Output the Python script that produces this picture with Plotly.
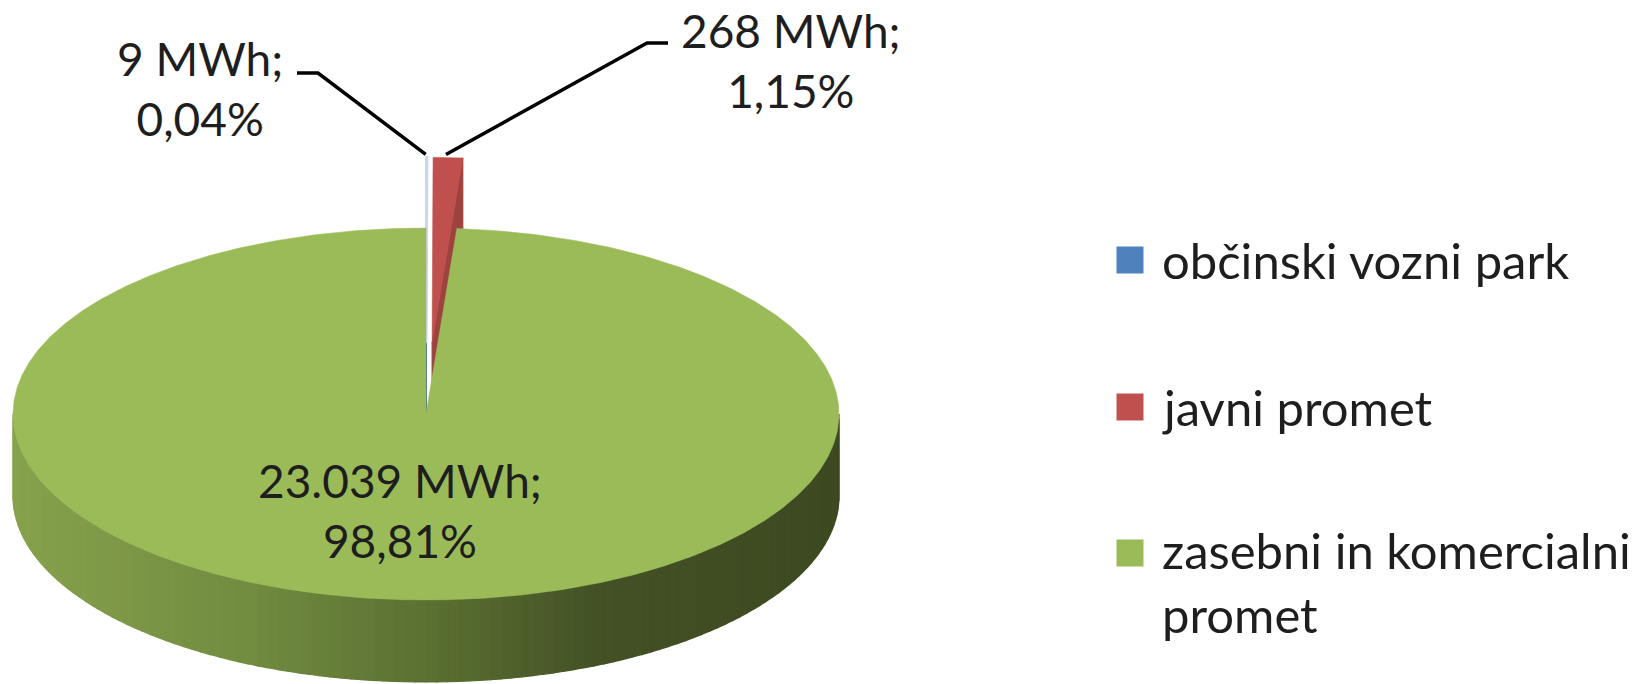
import numpy as np
import plotly.graph_objects as go

# ---- data -------------------------------------------------------------
categories = ["občinski vozni park", "javni promet", "zasebni in komercialni promet"]
energy_mwh = [9, 268, 23039]
slice_colors = ["#4F81BD", "#C0504D", "#9BBB59"]

# ---- drawing constants (pixel space of the page) ------------------------
W, H = 1645, 684
CX, CY = 426, 414          # centre of the top ellipse
RX, RY = 413, 186          # radii of the top ellipse
DEPTH = 82                 # thickness of the disc
EXPLODE = [0.38, 0.38, 0.0]
FONT = dict(family="Lato, 'Open Sans', sans-serif", size=46, color="#1e1e1e")
LEGEND_FONT = dict(FONT, size=49)

total = sum(energy_mwh)
shares = [v / total for v in energy_mwh]
bounds = np.concatenate([[0.0], np.cumsum(shares)]) * 360.0   # clockwise from 12 o'clock


def fmt_mwh(v):
    return f"{v:,}".replace(",", ".") + " MWh"


def fmt_pct(s):
    return f"{s * 100:.2f}".replace(".", ",") + "%"


def rim(theta, off=(0.0, 0.0), drop=0.0):
    t = np.radians(theta)
    return CX + off[0] + RX * np.sin(t), CY + off[1] - RY * np.cos(t) + drop


def hex_rgb(h):
    h = h.lstrip("#")
    return tuple(int(h[i:i + 2], 16) for i in (0, 2, 4))


def rgb(c):
    return "rgb(%d,%d,%d)" % tuple(int(round(v)) for v in c)


def darker(h, f):
    return rgb(tuple(v * f for v in hex_rgb(h)))


# lighting of the outer wall: bright on the left, dark on the right
WALL_STOPS = [(0.00, (135, 162, 76)), (0.29, (113, 139, 64)), (0.53, (88, 108, 48)),
              (0.71, (67, 81, 37)), (1.00, (61, 73, 33))]


def wall_color(x):
    f = (x - (CX - RX)) / (2 * RX)
    f = min(max(f, 0.0), 1.0)
    for (f0, c0), (f1, c1) in zip(WALL_STOPS[:-1], WALL_STOPS[1:]):
        if f <= f1:
            k = (f - f0) / (f1 - f0) if f1 > f0 else 0
            return rgb(tuple(a + (b - a) * k for a, b in zip(c0, c1)))
    return rgb(WALL_STOPS[-1][1])


fig = go.Figure()


def poly(xs, ys, color, line_color=None, lw=1.0):
    fig.add_trace(go.Scatter(
        x=list(xs) + [xs[0]], y=list(ys) + [ys[0]], mode="lines", fill="toself",
        fillcolor=color, line=dict(color=line_color or color, width=lw),
        hoverinfo="skip", showlegend=False))


# ---- slices: exploded (rear) slices first, the large slice last -----------
order = sorted(range(len(energy_mwh)), key=lambda i: -EXPLODE[i])
for i in order:
    a0, a1 = bounds[i], bounds[i + 1]
    mid = np.radians((a0 + a1) / 2)
    off = (EXPLODE[i] * RX * np.sin(mid), -EXPLODE[i] * RY * np.cos(mid))
    c = slice_colors[i]
    ctop = (CX + off[0], CY + off[1])

    # radial wall at the clockwise end (visible when it faces forward)
    if np.sin(np.radians(a1)) > 1e-6:
        rx_, ry_ = rim(a1, off)
        poly([ctop[0], rx_, rx_, ctop[0]], [ctop[1], ry_, ry_ + DEPTH, ctop[1] + DEPTH],
             darker(c, 0.82))
    # radial wall at the start
    if np.sin(np.radians(a0)) < -1e-6:
        rx_, ry_ = rim(a0, off)
        poly([ctop[0], rx_, rx_, ctop[0]], [ctop[1], ry_, ry_ + DEPTH, ctop[1] + DEPTH],
             darker(c, 0.82))

    # outer wall, front half only
    lo, hi = max(a0, 90.0), min(a1, 270.0)
    if hi > lo:
        n = max(2, int((hi - lo) / 1.5))
        th = np.linspace(lo, hi, n + 1)
        for ta, tb in zip(th[:-1], th[1:]):
            xa, ya = rim(ta, off)
            xb, yb = rim(tb, off)
            col = wall_color((xa + xb) / 2) if i == 2 else darker(c, 0.75)
            poly([xa, xb, xb, xa], [ya, yb, yb + DEPTH, ya + DEPTH], col, lw=1.2)

    # top face
    th = np.linspace(a0, a1, max(3, int((a1 - a0) * 2)))
    xs, ys = rim(th, off)
    if i == 0:
        poly([ctop[0]] + list(xs), [ctop[1]] + list(ys), "#c9d8ec", "#c9d8ec", lw=2.5)
    else:
        poly([ctop[0]] + list(xs), [ctop[1]] + list(ys), c, lw=0.5)

# ---- data labels ------------------------------------------------------------
label_pos = [(200, 88), (791, 60), (400, 510)]
leader_elbow = [((297, 73), (318, 73)), ((668, 43), (647, 43))]

for i, (v, s) in enumerate(zip(energy_mwh, shares)):
    fig.add_annotation(x=label_pos[i][0], y=label_pos[i][1], text=f"{fmt_mwh(v)};<br>{fmt_pct(s)}",
                       showarrow=False, font=FONT, align="center",
                       xanchor="center", yanchor="middle")

for i, (p0, p1) in enumerate(leader_elbow):
    mid = np.radians((bounds[i] + bounds[i + 1]) / 2)
    off = (EXPLODE[i] * RX * np.sin(mid), -EXPLODE[i] * RY * np.cos(mid))
    ax, ay = rim(np.degrees(mid), off)
    fig.add_trace(go.Scatter(x=[p0[0], p1[0], ax + (-2 if i else -1)], y=[p0[1], p1[1], ay - 3],
                             mode="lines", line=dict(color="black", width=3.5),
                             hoverinfo="skip", showlegend=False))

# ---- legend -------------------------------------------------------------------
legend_y = [260, 407, 582]
legend_marker_y = [260, 407, 553]
fig.add_trace(go.Scatter(x=[1130] * 3, y=legend_marker_y, mode="markers",
                         marker=dict(symbol="square", size=27, color=slice_colors,
                                     line=dict(width=0)),
                         hoverinfo="skip", showlegend=False))


def wrap(txt, width=22):
    words, lines, cur = txt.split(), [], ""
    for w in words:
        if cur and len(cur) + 1 + len(w) > width:
            lines.append(cur)
            cur = w
        else:
            cur = (cur + " " + w).strip()
    lines.append(cur)
    return "<br>".join(lines)


for name, y in zip(categories, legend_y):
    fig.add_annotation(x=1160, y=y, text=wrap(name), showarrow=False, font=LEGEND_FONT,
                       align="left", xanchor="left", yanchor="middle")

fig.update_layout(
    width=W, height=H, margin=dict(l=0, r=0, t=0, b=0),
    paper_bgcolor="white", plot_bgcolor="white",
    xaxis=dict(range=[0, W], visible=False, fixedrange=True),
    yaxis=dict(range=[H, 0], visible=False, fixedrange=True),
    showlegend=False,
)

fig.write_html("out.html")
